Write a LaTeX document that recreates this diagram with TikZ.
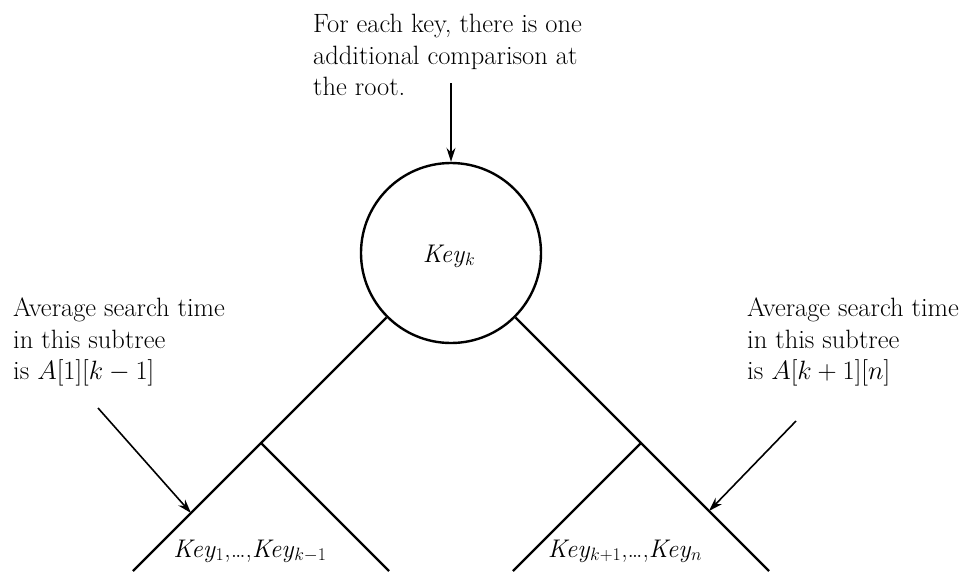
\RequirePackage{fix-cm}
\documentclass[tikz,border=0pt]{standalone}
\usetikzlibrary{arrows.meta}
\begin{document}
\begin{tikzpicture}[x=1pt,y=-1pt,
  tree/.style={line width=2.4pt},
  arr/.style={line width=1.6pt,-{Stealth[length=14pt,width=9pt]}},
  note/.style={align=left,inner sep=0pt,anchor=north west,font=\fontsize{26.5}{31.5}\selectfont},
  keylab/.style={inner sep=0pt,anchor=base,font=\fontsize{25.5}{28}\selectfont}]
\useasboundingbox (0,0) rectangle (964,571);
\node[circle,draw,tree,minimum size=180pt,inner sep=0pt] (root) at (451,253) {};
\node[keylab] (rk) at (449,262) {\textit{Key}$_k$};
\coordinate (lj) at (261,443);
\coordinate (lb) at (133,571);
\coordinate (li) at (389,571);
\coordinate (rj) at (641,443);
\coordinate (rb) at (769,571);
\coordinate (ri) at (513,571);
\draw[tree] (root.-135) -- (lj) -- (lb);
\draw[tree] (lj) -- (li);
\draw[tree] (root.-45) -- (rj) -- (rb);
\draw[tree] (rj) -- (ri);
\node[note] (top) at (313,14) {For each key, there is one\\additional comparison at\\the root.};
\node[note] (lt) at (13,298) {Average search time\\in this subtree\\is $A[1][k - 1]$};
\node[note] (rt) at (747,298) {Average search time\\in this subtree\\is $A[k + 1][n]$};
\coordinate (ta) at (451,83);
\coordinate (la) at (98,408);
\coordinate (lt2) at (191,513);
\coordinate (ra) at (796,421);
\coordinate (rt2) at (709,511);
\draw[arr] (ta) -- (root.north);
\draw[arr] (la) -- (lt2);
\draw[arr] (ra) -- (rt2);
\node[keylab] (lk) at (250,557) {\textit{Key}$_1$,\ldots,\textit{Key}$_{k-1}$};
\node[keylab] (rk2) at (625,557) {\textit{Key}$_{k+1}$,\ldots,\textit{Key}$_n$};
\end{tikzpicture}
\end{document}
